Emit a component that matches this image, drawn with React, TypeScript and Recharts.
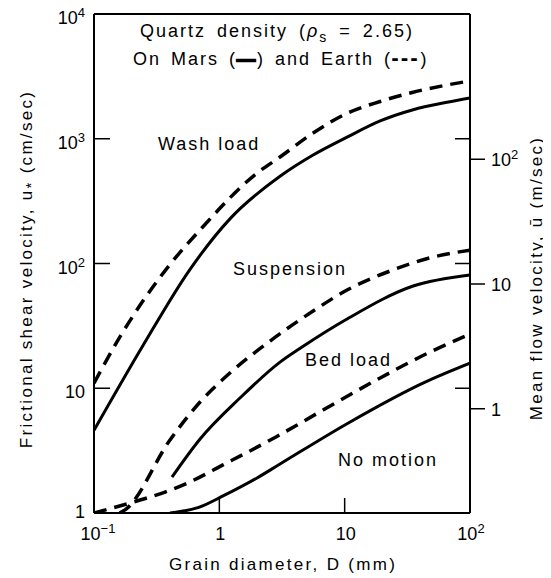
import React from "react";
import {
  LineChart,
  Line,
  XAxis,
  YAxis,
  ReferenceLine,
  Customized,
} from "recharts";

// grain diameter D (mm) -> frictional shear velocity u* (cm/sec)
const washLoadMars = [
  { d: 0.1, u: 4.6 },
  { d: 0.246, u: 22 },
  { d: 0.58, u: 89 },
  { d: 1.22, u: 229 },
  { d: 3.05, u: 500 },
  { d: 5.6, u: 740 },
  { d: 10.45, u: 1030 },
  { d: 19.2, u: 1390 },
  { d: 35.2, u: 1710 },
  { d: 65.6, u: 1960 },
  { d: 100, u: 2122 },
];

const washLoadEarth = [
  { d: 0.1, u: 11 },
  { d: 0.161, u: 25.8 },
  { d: 0.39, u: 94 },
  { d: 0.702, u: 186 },
  { d: 2.0, u: 531 },
  { d: 3.05, u: 714 },
  { d: 5.6, u: 1112 },
  { d: 10.45, u: 1600 },
  { d: 19.2, u: 1990 },
  { d: 35.2, u: 2360 },
  { d: 65.6, u: 2698 },
  { d: 100, u: 2904 },
];

const suspensionMars = [
  { d: 0.419, u: 1.94 },
  { d: 0.702, u: 3.92 },
  { d: 1.46, u: 8.35 },
  { d: 3.05, u: 16.2 },
  { d: 4.57, u: 21.4 },
  { d: 10.45, u: 35.9 },
  { d: 35.2, u: 66 },
  { d: 100, u: 81 },
];

const suspensionEarth = [
  { d: 0.16, u: 1.0 },
  { d: 0.177, u: 1.06 },
  { d: 0.404, u: 3.85 },
  { d: 0.702, u: 7.76 },
  { d: 1.22, u: 13.3 },
  { d: 2.54, u: 23.9 },
  { d: 5.6, u: 41.6 },
  { d: 10.45, u: 61.3 },
  { d: 23, u: 87 },
  { d: 48, u: 111 },
  { d: 100, u: 128 },
];

const bedLoadMars = [
  { d: 0.404, u: 1.0 },
  { d: 0.702, u: 1.12 },
  { d: 1.07, u: 1.37 },
  { d: 2.0, u: 1.91 },
  { d: 3.05, u: 2.47 },
  { d: 10.45, u: 5.2 },
  { d: 43.8, u: 11.2 },
  { d: 100, u: 15.9 },
];

const bedLoadEarth = [
  { d: 0.1, u: 1.0 },
  { d: 0.233, u: 1.27 },
  { d: 0.369, u: 1.47 },
  { d: 0.58, u: 1.77 },
  { d: 1.07, u: 2.43 },
  { d: 2.83, u: 4.07 },
  { d: 6.72, u: 6.69 },
  { d: 19.2, u: 12.1 },
  { d: 48, u: 19.5 },
  { d: 100, u: 27.2 },
];

const xTicks = [0.1, 1, 10, 100];
const xTickLabels: [string, string][] = [["10", "\u22121"], ["1", ""], ["10", ""], ["10", "2"]];
const yTicks = [1, 10, 100, 1000, 10000];
const yTickLabels: [string, string][] = [["1", ""], ["10", ""], ["10", "2"], ["10", "3"], ["10", "4"]];
const flowTicks = [1, 10, 100];
const flowTickLabels: [string, string][] = [["1", ""], ["10", ""], ["10", "2"]];
// u* (cm/sec) per mean flow velocity (m/sec)
const shearPerFlow = 6.85;

const FONT = "'Liberation Sans', Arial, sans-serif";
const PLOT_W = 376;

const Pow = ({ x, y, label, anchor }: { x: number; y: number; label: [string, string]; anchor: string }) => (
  <text x={x} y={y} textAnchor={anchor as any} fontSize={18} fontFamily={FONT} fill="#000">
    {label[0]}
    {label[1] && (
      <tspan dy={-7} fontSize={13}>
        {label[1]}
      </tspan>
    )}
  </text>
);

const LeftTick = (props: any) => {
  const { x, y, payload } = props;
  const label = yTickLabels[yTicks.indexOf(payload.value)];
  return (
    <g>
      <line x1={x} x2={x + 16} y1={y} y2={y} stroke="#000" strokeWidth={1.5} />
      <line x1={x + PLOT_W - 15} x2={x + PLOT_W} y1={y} y2={y} stroke="#000" strokeWidth={1.5} />
      <Pow x={x - 9} y={payload.value === 1 ? y + 5 : y + 10} label={label} anchor="end" />
    </g>
  );
};

const RightTick = (props: any) => {
  const { x, y, payload } = props;
  const label = flowTickLabels[flowTicks.indexOf(payload.value)];
  return (
    <g>
      <line x1={x} x2={x + 15} y1={y} y2={y} stroke="#000" strokeWidth={1.5} />
      <Pow x={x + 21} y={y + 7} label={label} anchor="start" />
    </g>
  );
};

const BottomTick = (props: any) => {
  const { x, y, payload } = props;
  const label = xTickLabels[xTicks.indexOf(payload.value)];
  return (
    <g>
      <line x1={x} x2={x} y1={y} y2={y - 15} stroke="#000" strokeWidth={1.5} />
      <Pow x={label[1].length > 1 ? x + 4 : x + 1} y={y + 27} label={label} anchor="middle" />
    </g>
  );
};

const txt = { fontFamily: FONT, fontSize: 18, fill: "#000", letterSpacing: 2 } as const;
const axTxt = { fontFamily: FONT, fontSize: 17, fill: "#000", letterSpacing: 2.3 } as const;

const Annotations = () => (
  <g>
    <text x={132} y={29} style={{ ...txt, wordSpacing: 4 }}>
      Quartz density (<tspan fontStyle="italic">ρ</tspan>
      <tspan dy={5} fontSize={14}>s</tspan>
      <tspan dy={-5}> = 2.65)</tspan>
    </text>
    <text x={125} y={57} style={{ ...txt, wordSpacing: 3 }}>
      On Mars (<tspan stroke="#000" strokeWidth={2.2}>—</tspan>) and Earth (
      <tspan stroke="#000" strokeWidth={1.2} style={{ letterSpacing: 3.5 }}>---</tspan>)
    </text>
    <text x={150} y={142} style={txt}>Wash load</text>
    <text x={225} y={267} style={txt}>Suspension</text>
    <text x={297} y={358} style={txt}>Bed load</text>
    <text x={330} y={458} style={txt}>No motion</text>
    <text x={275} y={562} textAnchor="middle" style={axTxt}>
      Grain diameter, D (mm)
    </text>
    <text x={24} y={261} textAnchor="middle" transform="rotate(-90 24 261)" style={axTxt}>
      Frictional shear velocity, u<tspan dy={4} fontSize={15}>*</tspan>
      <tspan dy={-4}> (cm/sec)</tspan>
    </text>
    <text x={534} y={270} textAnchor="middle" transform="rotate(-90 534 270)" style={axTxt}>
      Mean flow velocity, ū (m/sec)
    </text>
  </g>
);

const solid = { stroke: "#000", strokeWidth: 3, dot: false, isAnimationActive: false } as const;
const dashed = { ...solid, strokeWidth: 3.5, strokeDasharray: "13 8" } as const;

export default function App() {
  return (
    <>
      <style>{`.recharts-surface { overflow: visible; }`}</style>
      <LineChart width={543} height={570} margin={{ top: 6, right: 0, bottom: 0, left: 0 }}>
        <XAxis
          dataKey="d"
          type="number"
          scale="log"
          domain={[0.1, 100]}
          ticks={xTicks}
          interval={0}
          allowDataOverflow
          height={65}
          tickSize={0}
          tickMargin={0}
          tick={<BottomTick />}
          axisLine={{ stroke: "#000", strokeWidth: 2 }}
        />
        <YAxis
          yAxisId="left"
          type="number"
          scale="log"
          domain={[1, 10000]}
          ticks={yTicks}
          interval={0}
          allowDataOverflow
          width={86}
          tickSize={0}
          tickMargin={0}
          tick={<LeftTick />}
          axisLine={{ stroke: "#000", strokeWidth: 2 }}
        />
        <YAxis
          yAxisId="right"
          orientation="right"
          type="number"
          scale="log"
          domain={[1 / shearPerFlow, 10000 / shearPerFlow]}
          ticks={flowTicks}
          interval={0}
          allowDataOverflow
          width={81}
          tickSize={0}
          tickMargin={0}
          tick={<RightTick />}
          axisLine={{ stroke: "#000", strokeWidth: 2 }}
        />
        <ReferenceLine yAxisId="left" y={10000} stroke="#000" strokeWidth={2} />
        <Line yAxisId="left" data={washLoadMars} dataKey="u" type="monotone" {...solid} />
        <Line yAxisId="left" data={washLoadEarth} dataKey="u" type="monotone" {...dashed} />
        <Line yAxisId="left" data={suspensionMars} dataKey="u" type="monotone" {...solid} />
        <Line yAxisId="left" data={suspensionEarth} dataKey="u" type="monotone" {...dashed} />
        <Line yAxisId="left" data={bedLoadMars} dataKey="u" type="monotone" {...solid} />
        <Line yAxisId="left" data={bedLoadEarth} dataKey="u" type="monotone" {...dashed} />
        <Customized component={Annotations} />
      </LineChart>
    </>
  );
}
